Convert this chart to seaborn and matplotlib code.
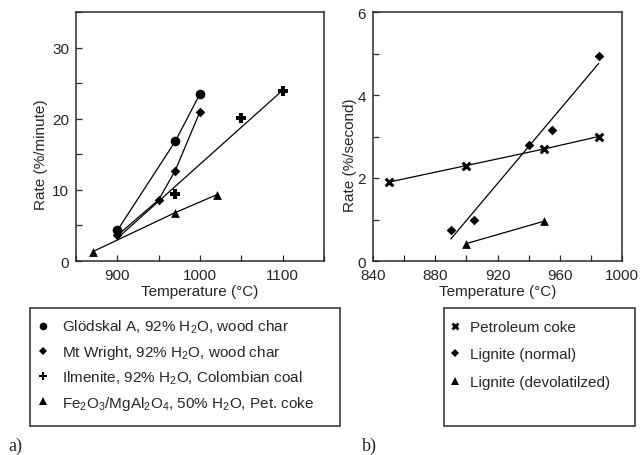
import matplotlib
matplotlib.use('Agg')
import matplotlib.pyplot as plt
import seaborn as sns
from matplotlib.lines import Line2D
from matplotlib.patches import Rectangle
from matplotlib.ticker import MultipleLocator

# ---- panel a) rate in %/minute vs temperature ----
glod_temp = [900, 970, 1000]
glod_rate = [4.3, 16.8, 23.5]
mtw_temp = [900, 950, 970, 1000]
mtw_rate = [3.6, 8.6, 12.7, 21.0]
ilm_temp = [970, 1050, 1100]
ilm_rate = [9.4, 20.1, 23.9]
ilm_fit_temp = [900, 1100]   # straight fit line
ilm_fit_rate = [3.2, 24.0]
fe_temp = [870, 970, 1020]
fe_rate = [1.3, 6.8, 9.3]
labels_a = ['Glödskal A, 92% H$_2$O, wood char',
            'Mt Wright, 92% H$_2$O, wood char',
            'Ilmenite, 92% H$_2$O, Colombian coal',
            'Fe$_2$O$_3$/MgAl$_2$O$_4$, 50% H$_2$O, Pet. coke']

# ---- panel b) rate in %/second vs temperature ----
pet_temp = [850, 900, 950, 985]
pet_rate = [1.9, 2.3, 2.7, 3.0]
lig_temp = [890, 905, 940, 955, 985]
lig_rate = [0.75, 1.0, 2.8, 3.15, 4.95]
lig_fit_temp = [890, 985]
lig_fit_rate = [0.53, 4.76]
dev_temp = [900, 950]
dev_rate = [0.42, 0.96]
labels_b = ['Petroleum coke', 'Lignite (normal)', 'Lignite (devolatilzed)']

sns.set_style('ticks')
plt.rcParams['font.family'] = ['Liberation Sans', 'DejaVu Sans']
plt.rcParams['mathtext.default'] = 'regular'

W, H = 640, 456
fig = plt.figure(figsize=(W / 100, H / 100), dpi=100)


def px_axes(x0, y0, x1, y1):
    return fig.add_axes([x0 / W, 1 - y1 / H, (x1 - x0) / W, (y1 - y0) / H])


ax1 = px_axes(76, 13, 324, 262)
ax2 = px_axes(373, 13, 622, 262)

lw = 0.9
# panel a
sns.lineplot(x=glod_temp, y=glod_rate, ax=ax1, color='k', lw=lw, sort=False)
sns.lineplot(x=mtw_temp, y=mtw_rate, ax=ax1, color='k', lw=lw, sort=False)
sns.lineplot(x=ilm_fit_temp, y=ilm_fit_rate, ax=ax1, color='k', lw=lw)
sns.lineplot(x=fe_temp, y=fe_rate, ax=ax1, color='k', lw=lw, sort=False)
sns.scatterplot(x=glod_temp, y=glod_rate, ax=ax1, marker='o', s=48, color='k', linewidth=0, zorder=3)
sns.scatterplot(x=mtw_temp, y=mtw_rate, ax=ax1, marker='D', s=24, color='k', linewidth=0, zorder=3)
sns.scatterplot(x=ilm_temp, y=ilm_rate, ax=ax1, marker='P', s=42, color='k', linewidth=0, zorder=3)
sns.scatterplot(x=fe_temp, y=fe_rate, ax=ax1, marker='^', s=40, color='k', linewidth=0, zorder=3)

# panel b
sns.lineplot(x=pet_temp, y=pet_rate, ax=ax2, color='k', lw=lw, sort=False)
sns.lineplot(x=lig_fit_temp, y=lig_fit_rate, ax=ax2, color='k', lw=lw)
sns.lineplot(x=dev_temp, y=dev_rate, ax=ax2, color='k', lw=lw)
sns.scatterplot(x=pet_temp, y=pet_rate, ax=ax2, marker='x', s=30, color='k', linewidth=2.2, zorder=3)
sns.scatterplot(x=lig_temp, y=lig_rate, ax=ax2, marker='D', s=24, color='k', linewidth=0, zorder=3)
sns.scatterplot(x=dev_temp, y=dev_rate, ax=ax2, marker='^', s=40, color='k', linewidth=0, zorder=3)

ax1.set_xlim(850, 1150)
ax1.set_ylim(0, 35)
ax1.xaxis.set_minor_locator(MultipleLocator(50))
ax1.yaxis.set_major_locator(MultipleLocator(10))
ax1.yaxis.set_minor_locator(MultipleLocator(5))
ax1.set_xticks([900, 1000, 1100])

ax2.set_xlim(840, 1000)
ax2.set_ylim(0, 6)
ax2.xaxis.set_major_locator(MultipleLocator(40))
ax2.xaxis.set_minor_locator(MultipleLocator(20))
ax2.yaxis.set_major_locator(MultipleLocator(2))
ax2.yaxis.set_minor_locator(MultipleLocator(1))

for ax, ylab, yx in [(ax1, 'Rate (%/minute)', -0.113), (ax2, 'Rate (%/second)', -0.064)]:
    for sp in ax.spines.values():
        sp.set_color('#2a2a2a')
        sp.set_linewidth(1.1)
    ax.tick_params(which='both', direction='in', length=4, width=0.9,
                   color='#2a2a2a', labelsize=11, pad=5)
    ax.set_xlabel('Temperature (°C)', fontsize=11, labelpad=1.5)
    ax.set_ylabel(ylab, fontsize=11)
    ax.yaxis.set_label_coords(yx, 0.43)

# legends in boxes below each panel
fig.patches.append(Rectangle((30 / W, 1 - 427 / H), 310 / W, 118 / H, transform=fig.transFigure,
                             fill=False, edgecolor='#2a2a2a', lw=1.1))
fig.patches.append(Rectangle((444 / W, 1 - 427 / H), 191 / W, 118 / H, transform=fig.transFigure,
                             fill=False, edgecolor='#2a2a2a', lw=1.1))

h_a = [Line2D([], [], ls='none', marker=m, color='k', ms=ms, mew=0)
       for m, ms in [('o', 5.5), ('D', 4), ('P', 6), ('^', 5.5)]]
h_b = [Line2D([], [], ls='none', marker='x', color='k', ms=4.5, mew=2),
       Line2D([], [], ls='none', marker='D', color='k', ms=4, mew=0),
       Line2D([], [], ls='none', marker='^', color='k', ms=5.5, mew=0)]

fig.legend(h_a, labels_a, loc='upper left', bbox_to_anchor=(35.4 / W, 1 - 319 / H),
           frameon=False, fontsize=11, handlelength=1.0, handletextpad=0.75,
           labelspacing=0.5, borderpad=0, borderaxespad=0)
fig.legend(h_b, labels_b, loc='upper left', bbox_to_anchor=(447.4 / W, 1 - 321 / H),
           frameon=False, fontsize=11, handlelength=1.0, handletextpad=0.48,
           labelspacing=0.88, borderpad=0, borderaxespad=0)

fig.text(8 / W, 1 - 446 / H, 'a)', family='Liberation Serif', fontsize=13, va='center')
fig.text(362 / W, 1 - 446 / H, 'b)', family='Liberation Serif', fontsize=13, va='center')

fig.savefig('out.png', dpi=100)
